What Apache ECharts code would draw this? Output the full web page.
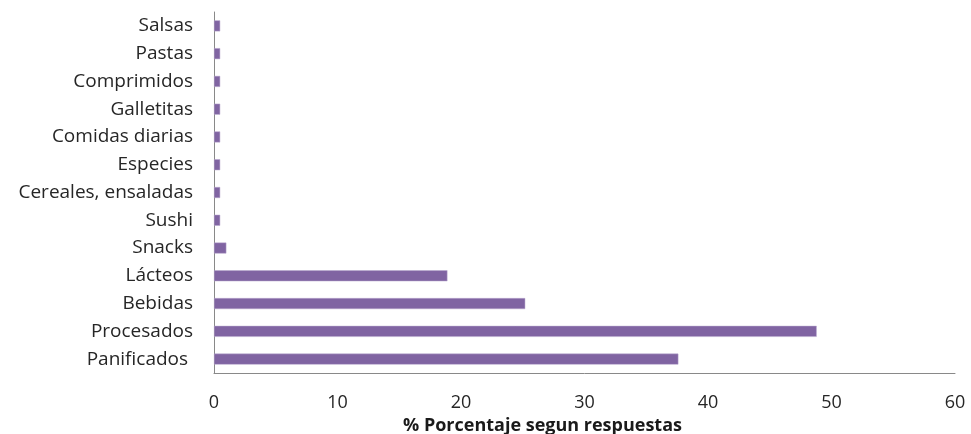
<!DOCTYPE html>
<html>
<head>
<meta charset="utf-8">
<script src="https://cdn.jsdelivr.net/npm/echarts@6/dist/echarts.min.js"></script>
<style>
  html, body { margin: 0; padding: 0; background: #fff; }
  #chart { width: 971px; height: 434px; }
</style>
</head>
<body>
<div id="chart"></div>
<script>
// categorías, de abajo hacia arriba
const categorias = [
  'Panificados ', 'Procesados', 'Bebidas', 'Lácteos', 'Snacks', 'Sushi',
  'Cereales, ensaladas', 'Especies', 'Comidas diarias', 'Galletitas',
  'Comprimidos', 'Pastas', 'Salsas'
];
// % según respuestas
const porcentajes = [37.6, 48.8, 25.2, 18.9, 1.0, 0.5, 0.5, 0.5, 0.5, 0.5, 0.5, 0.5, 0.5];
const ejeX = { min: 0, max: 60, interval: 10 };

const chart = echarts.init(document.getElementById('chart'));

chart.setOption({
  animation: false,
  textStyle: { fontFamily: 'Open Sans' },
  grid: { left: 214, right: 16, top: 12, bottom: 61, containLabel: false, outerBoundsMode: 'none' },
  xAxis: {
    type: 'value',
    min: ejeX.min,
    max: ejeX.max,
    interval: ejeX.interval,
    name: '% Porcentaje segun respuestas',
    nameLocation: 'middle',
    nameGap: 42,
    nameTextStyle: { color: '#1a1a1a', fontSize: 18, fontWeight: 'bold', padding: [0, 84, 0, 0] },
    axisLine: { show: true, lineStyle: { color: '#898989', width: 1 } },
    axisTick: { show: false },
    splitLine: { show: false },
    axisLabel: { color: '#262626', fontSize: 18, margin: 21 }
  },
  yAxis: {
    type: 'category',
    data: categorias,
    axisLine: { show: true, lineStyle: { color: '#898989', width: 1 } },
    axisTick: { show: false },
    axisLabel: { color: '#262626', fontSize: 19, margin: 21 }
  },
  series: [
    {
      type: 'bar',
      data: porcentajes,
      barWidth: 11,
      itemStyle: { color: '#8064A2', borderColor: '#b9a9cf', borderWidth: 0.5 }
    }
  ]
});
</script>
</body>
</html>
